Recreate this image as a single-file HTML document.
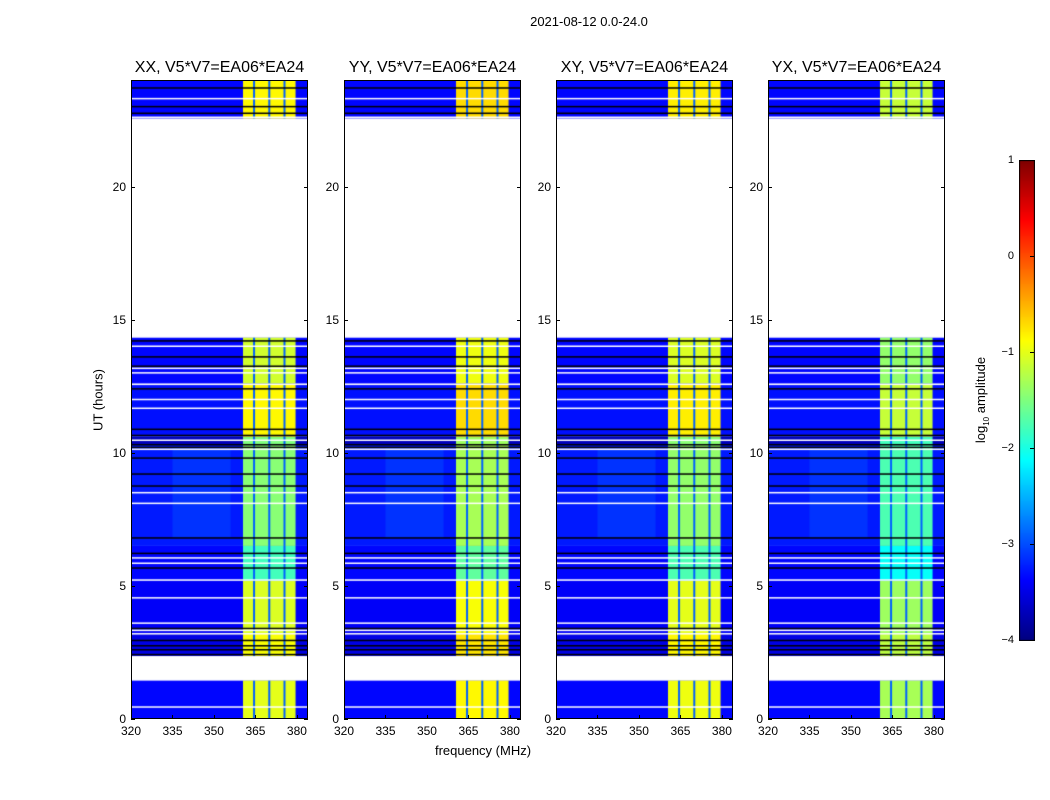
<!DOCTYPE html>
<html><head><meta charset="utf-8">
<style>
body{margin:0;background:#fff;width:1050px;height:800px;overflow:hidden;position:relative;font-family:"Liberation Sans",sans-serif;color:#000}
.t{position:absolute;white-space:nowrap}
canvas{position:absolute}
</style></head>
<body>
<div class="t" style="left:589px;top:14px;font-size:13px;transform:translateX(-50%)">2021-08-12 0.0-24.0</div>
<div class="t" style="left:483px;top:743px;font-size:13px;transform:translateX(-50%)">frequency (MHz)</div>
<div class="t" style="left:98px;top:400px;font-size:13px;transform:translate(-50%,-50%) rotate(-90deg)">UT (hours)</div>
<div class="t" style="left:982px;top:400px;font-size:13px;transform:translate(-50%,-50%) rotate(-90deg)">log<sub style="font-size:8px">10</sub> amplitude</div>
<canvas id="cb" width="16" height="481" style="left:1019px;top:160px"></canvas>
<div id="root"></div>
<script>
// ---- data ----
const panelTitles = ["XX, V5*V7=EA06*EA24","YY, V5*V7=EA06*EA24","XY, V5*V7=EA06*EA24","YX, V5*V7=EA06*EA24"];
const panelLeft = [131,344,556,768];
const freqTicks = [320,335,350,365,380];
const timeTicks = [0,5,10,15,20];
const cbTicks = [1,0,-1,-2,-3,-4];
// time segments [start, end] hours with band level (log10 amplitude)
const segStart = [0, 2.36, 3.2, 5.2, 6.5, 10.3, 10.6, 12.6, 22.55];
const segEnd   = [1.45, 3.2, 5.2, 6.5, 10.3, 10.6, 12.6, 14.33, 24];
const segBand  = [-1.0, -0.9, -1.05, -1.8, -1.45, -1.5, -0.85, -1.1, -0.85];
const segBg    = [-3.35, -3.5, -3.4, -3.35, -3.25, -3.7, -3.3, -3.35, -3.35];
const panelBandOffset = [0, 0.15, 0.05, -0.3];
const flagStart = [1.45, 14.33];
const flagEnd   = [2.36, 22.55];
const whiteLines = [14.0,13.17,13.0,12.57,12.0,11.67,10.47,10.13,8.5,8.1,6.05,5.85,5.22,4.55,3.6,3.33,3.2,0.45,23.3,22.6];
const blackLines = [14.2,13.6,13.25,12.4,10.88,10.65,10.3,10.2,9.8,9.2,8.75,6.8,6.22,5.67,3.4,2.95,2.75,2.6,2.42,23.7,23.0,22.75];
const bandF0 = 360.5, bandF1 = 379.5;
const bandEdges = [364.5, 370, 375.5];
const humpF = [335, 356]; const humpT = [6.8, 10.2]; const humpV = -2.9;
// ---- scales ----
const W=177, H=639, Y0=80, F0=320, F1=384;
const xs = f => (f-F0)/(F1-F0)*W;
const ys = t => H - t/24*H;
function jet(v){
  let x=(v+4)/5; x=Math.max(0,Math.min(1,x));
  const c=t=>Math.max(0,Math.min(1,t));
  const r=c(Math.min(4*x-1.5,-4*x+4.5)), g=c(Math.min(4*x-0.5,-4*x+3.5)), b=c(Math.min(4*x+0.5,-4*x+2.5));
  return `rgb(${r*255|0},${g*255|0},${b*255|0})`;
}
const root=document.getElementById('root');
function mk(tag,cls,name,style,txt){const e=document.createElement(tag);if(cls)e.className=cls;e.style.cssText=style;if(txt!==undefined)e.textContent=txt;root.appendChild(e);return e;}
panelTitles.forEach((title,p)=>{
  const L=panelLeft[p];
  const cv=document.createElement('canvas');
  cv.width=W;cv.height=H;cv.style.left=L+'px';cv.style.top=Y0+'px';
  
  
  root.appendChild(cv);
  const g=cv.getContext('2d');
  g.fillStyle='#fff';g.fillRect(0,0,W,H);
  segStart.forEach((s,i)=>{
    const y1=ys(segEnd[i]), y2=ys(s);
    g.fillStyle=jet(segBg[i]);g.fillRect(0,y1,W,y2-y1);
    g.fillStyle=jet(segBand[i]+panelBandOffset[p]);
    g.fillRect(xs(bandF0),y1,xs(bandF1)-xs(bandF0),y2-y1);
    bandEdges.forEach(f=>{g.fillStyle=jet(-2.9);g.fillRect(xs(f)-1,y1,2,y2-y1);});
  });
  g.fillStyle=jet(humpV);g.globalAlpha=0.35;
  g.fillRect(xs(humpF[0]),ys(humpT[1]),xs(humpF[1])-xs(humpF[0]),ys(humpT[0])-ys(humpT[1]));
  g.globalAlpha=1;
  blackLines.forEach(t=>{g.fillStyle='#000';g.fillRect(0,ys(t)-0.75,W,1.5);});
  whiteLines.forEach(t=>{g.fillStyle='#fff';g.fillRect(0,ys(t)-0.75,W,1.5);});
  flagStart.forEach((s,i)=>{g.fillStyle='#fff';g.fillRect(0,ys(flagEnd[i]),W,ys(s)-ys(flagEnd[i]));});
  mk('div','t','panel-frame',`left:${L}px;top:${Y0}px;width:${W}px;height:${H}px;border:1px solid #000;box-sizing:border-box`);
  mk('div','t','panel-title',`left:${L+W/2}px;top:${Y0-21}px;font-size:16px;transform:translateX(-50%)`,title);
  freqTicks.forEach(f=>{
    const x=L+xs(f);
    mk('div','t','x-tick-label',`left:${x}px;top:${Y0+H+5}px;font-size:12px;transform:translateX(-50%)`,f);
    mk('div','t','x-tick',`left:${x}px;top:${Y0+H-4}px;width:1px;height:4px;background:#000`);
  });
  timeTicks.forEach(t=>{
    const y=Y0+ys(t);
    mk('div','t','y-tick-label',`left:${L-5}px;top:${y}px;font-size:12px;transform:translate(-100%,-50%)`,t);
    mk('div','t','y-tick',`left:${L}px;top:${y}px;width:4px;height:1px;background:#000`);
    mk('div','t','y-tick-right',`left:${L+W-4}px;top:${y}px;width:4px;height:1px;background:#000`);
  });
});
const cb=document.getElementById('cb').getContext('2d');
for(let i=0;i<481;i++){cb.fillStyle=jet(1-5*i/480);cb.fillRect(0,i,16,1);}
cb.strokeStyle='#000';cb.strokeRect(0.5,0.5,15,480);
cbTicks.forEach(v=>{
  const y=160+(1-v)/5*480;
  mk('div','t','colorbar-tick-label',`left:${1014}px;top:${y}px;font-size:11px;transform:translate(-100%,-50%)`,v<0?'\u2212'+(-v):v);
  mk('div','t','colorbar-tick',`left:1030px;top:${y}px;width:4px;height:1px;background:#000`);
});
</script>
</body></html>
